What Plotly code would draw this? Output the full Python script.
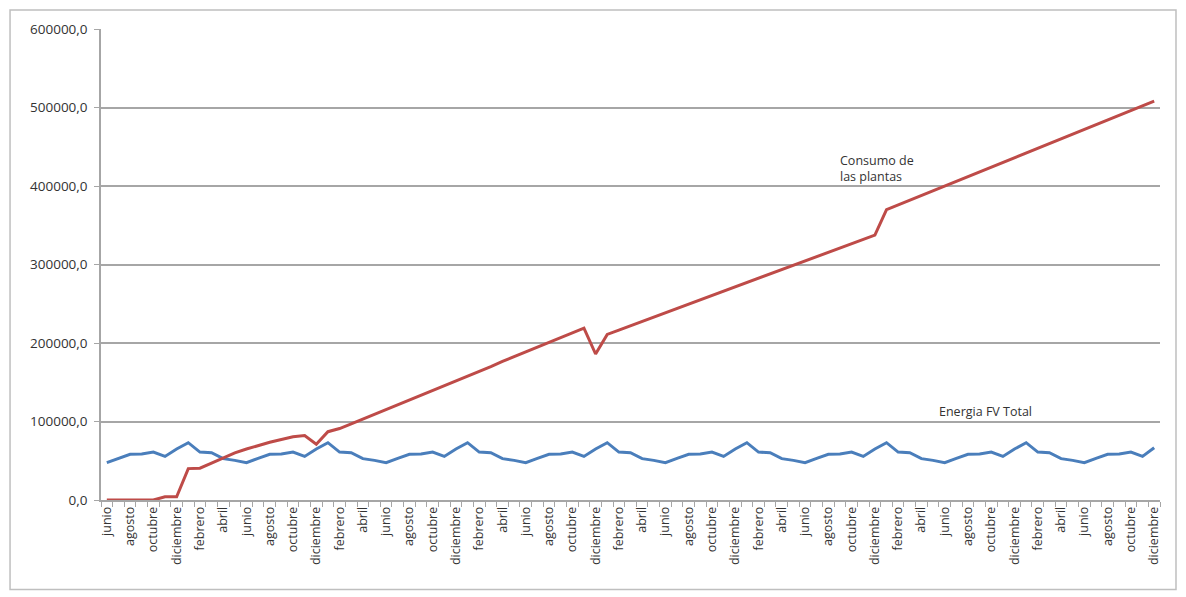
import plotly.graph_objects as go

months_cycle = ["junio", "julio", "agosto", "septiembre", "octubre", "noviembre",
                "diciembre", "enero", "febrero", "marzo", "abril", "mayo"]

# 91 monthly categories, junio (year 1) .. diciembre (year 8)
categories = [months_cycle[i % 12] for i in range(91)]

energia_fv = [
    47600, 53100, 58200, 58500, 61100, 55500, 65000, 73000, 61000, 60300, 52700, 50500,
    47600, 53100, 58200, 58500, 61100, 55500, 65000, 73000, 61000, 60300, 52700, 50500,
    47600, 53100, 58200, 58500, 61100, 55500, 65000, 73000, 61000, 60300, 52700, 50500,
    47600, 53100, 58200, 58500, 61100, 55500, 65000, 73000, 61000, 60300, 52700, 50500,
    47600, 53100, 58200, 58500, 61100, 55500, 65000, 73000, 61000, 60300, 52700, 50500,
    47600, 53100, 58200, 58500, 61100, 55500, 65000, 73000, 61000, 60300, 52700, 50500,
    47600, 53100, 58200, 58500, 61100, 55500, 65000, 73000, 61000, 60300, 52700, 50500,
    47600, 53100, 58200, 58500, 61100, 55500, 66500,
]

consumo = [
    0, 0, 0, 0, 0, 4000, 4000, 40000, 40500, 47000, 54000, 60000,
    65000, 69500, 73500, 77000, 80500, 82000, 71000, 87000, 91000, 97000, 103000, 109000,
    115000, 121500, 127500, 133500, 139500, 146000, 152000, 158000, 164000, 170000, 176500, 182500,
    188500, 194500, 201000, 207000, 213000, 219000, 186000, 211000, 216500, 222000, 227500, 233000,
    238500, 244000, 249500, 255000, 260500, 266000, 271500, 277000, 282500, 288000, 293500, 299000,
    304500, 310000, 315500, 321000, 326500, 332000, 337500, 370000, 376000, 382000, 388000, 394000,
    400000, 406000, 412000, 418000, 424000, 430000, 436000, 442000, 448000, 454000, 460000, 466000,
    472000, 478000, 484000, 490000, 496000, 502000, 508000,
]

y_ticks = [0, 100000, 200000, 300000, 400000, 500000, 600000]

idx = list(range(len(categories)))
label_idx = idx[::2]
label_text = [categories[i] for i in label_idx]

fig = go.Figure()
fig.add_trace(go.Scatter(x=idx, y=energia_fv, mode="lines", name="Energia FV Total",
                         line=dict(color="#4a7ebb", width=3)))
fig.add_trace(go.Scatter(x=idx, y=consumo, mode="lines", name="Consumo de las plantas",
                         line=dict(color="#be4b48", width=3)))

font_family = "Open Sans, Liberation Sans, sans-serif"

fig.update_layout(
    width=1186, height=597,
    margin=dict(l=101, r=26, t=29, b=97),
    paper_bgcolor="white", plot_bgcolor="white",
    showlegend=False,
    separators=",.",
    font=dict(family=font_family, color="#333333", size=12),
    xaxis=dict(
        range=[-0.5, len(categories) - 0.5],
        tickmode="array", tickvals=label_idx, ticktext=label_text,
        tickangle=-90, ticks="", showgrid=False, zeroline=False,
        showline=True, linecolor="#a6a6a6", linewidth=1.5,
        tickfont=dict(size=12.5, color="#333333"),
        minor=dict(ticks="outside", tick0=-0.5, dtick=1, ticklen=5,
                   tickcolor="#a6a6a6", tickwidth=1, showgrid=False),
    ),
    yaxis=dict(
        range=[0, 600000], tickmode="array", tickvals=y_ticks,
        tickformat=".1f", ticks="outside", ticklen=5, tickcolor="#a6a6a6",
        ticklabelstandoff=4,
        showgrid=True, gridcolor="#a6a6a6", gridwidth=1.5, zeroline=False,
        showline=True, linecolor="#a6a6a6", linewidth=1.5,
        tickfont=dict(size=13.5, color="#333333"),
    ),
    shapes=[dict(type="rect", xref="paper", yref="paper",
                 x0=-0.0859, x1=1.0151, y0=-0.1898, y1=1.0403,
                 line=dict(color="#bfbfbf", width=1.5), fillcolor="rgba(0,0,0,0)")],
    annotations=[
        dict(x=62.8, y=446000, xref="x", yref="y", text="Consumo de<br>las plantas",
             showarrow=False, xanchor="left", yanchor="top", align="left",
             font=dict(size=12.5, color="#333333", family=font_family)),
        dict(x=71.3, y=113000, xref="x", yref="y", text="Energia FV Total",
             showarrow=False, xanchor="left", yanchor="middle", align="left",
             font=dict(size=12.5, color="#333333", family=font_family)),
    ],
)

fig.write_html("out.html")
